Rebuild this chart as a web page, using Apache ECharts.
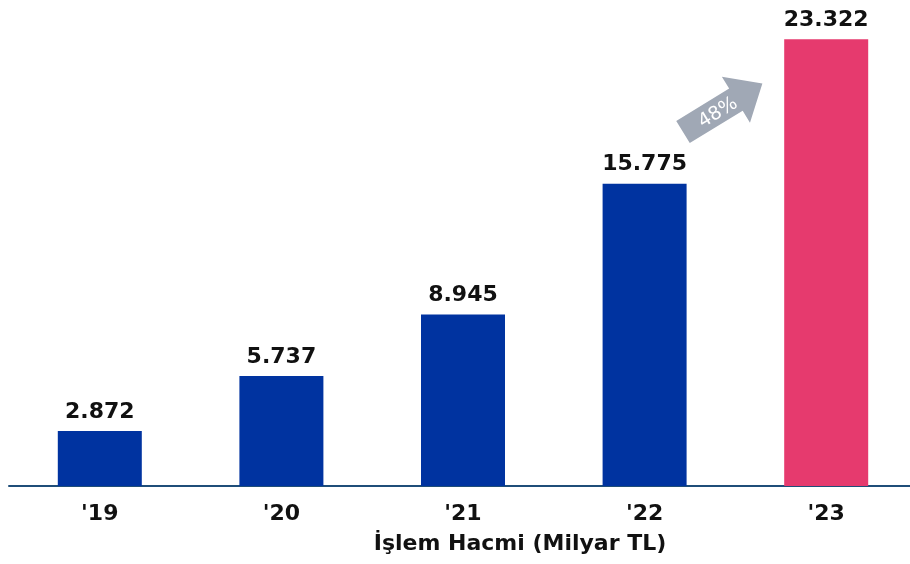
<!DOCTYPE html>
<html>
<head>
<meta charset="utf-8">
<script src="https://cdn.jsdelivr.net/npm/echarts@6/dist/echarts.min.js"></script>
<style>
html,body{margin:0;padding:0;background:#fff}
#chart{width:910px;height:564px}
</style>
</head>
<body>
<div id="chart"></div>
<script>
// veriler
var years = ["'19", "'20", "'21", "'22", "'23"]
var volumes = [2.872, 5.737, 8.945, 15.775, 23.322]
var barColors = ['#0033A0', '#0033A0', '#0033A0', '#0033A0', '#E63A6E']
var growthText = '48%'
var axisTitle = 'İşlem Hacmi (Milyar TL)'

var myChart = echarts.init(document.getElementById('chart'))

function fmt(v){
    return v.toFixed(3)
}

var option = {
    animation: false,
    title: {
        text: axisTitle,
        left: 520,
        top: 533,
        textAlign: 'center',
        padding: 0,
        textStyle: { fontFamily: 'DejaVu Sans', fontWeight: 'bold', fontSize: 22, color: '#111' }
    },
    grid: { left: 9, width: 908, top: 7, bottom: 78, outerBoundsMode: 'none' },
    xAxis: {
        type: 'category',
        data: years,
        axisLine: { lineStyle: { color: '#1F4E79', width: 2 } },
        axisTick: { show: false },
        axisLabel: { fontFamily: 'DejaVu Sans', fontWeight: 'bold', fontSize: 22, color: '#111', margin: 17 }
    },
    yAxis: {
        type: 'value',
        min: 0,
        max: 25,
        show: false
    },
    series: [{
        type: 'bar',
        barWidth: 84,
        data: volumes.map(function(v, i){
            return { value: v, itemStyle: { color: barColors[i] } }
        }),
        label: {
            show: true,
            position: 'top',
            distance: 8,
            formatter: function(p){ return fmt(p.value) },
            fontFamily: 'DejaVu Sans',
            fontWeight: 'bold',
            fontSize: 22,
            color: '#111'
        }
    }],
    graphic: [{
        type: 'group',
        x: 683,
        y: 132,
        rotation: 31.4 * Math.PI / 180,
        children: [{
            type: 'polygon',
            shape: { points: [[0,-13],[62,-13],[62,-27],[93,0],[62,27],[62,13],[0,13]] },
            style: { fill: '#A0A8B5' }
        }, {
            type: 'text',
            x: 40,
            y: 2,
            style: {
                text: growthText,
                fill: '#fff',
                fontFamily: 'DejaVu Sans',
                fontSize: 19,
                align: 'center',
                verticalAlign: 'middle'
            }
        }]
    }]
}
myChart.setOption(option)
</script>
</body>
</html>
